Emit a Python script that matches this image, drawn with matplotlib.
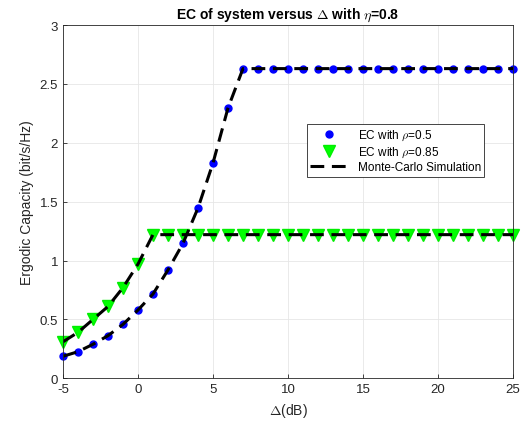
import numpy as np
from matplotlib import pyplot as plt

plt.rcParams['font.family'] = ['Liberation Sans', 'DejaVu Sans']
plt.rcParams['mathtext.fontset'] = 'cm'
plt.rcParams['axes.unicode_minus'] = False

# data
delta_db = np.arange(-5, 26)
ec_rho05 = [0.187, 0.226, 0.289, 0.362, 0.458, 0.58, 0.716, 0.92, 1.146, 1.446,
            1.828, 2.295, 2.63] + [2.63] * 18
ec_rho085 = [0.31, 0.39, 0.50, 0.61, 0.77, 0.97] + [1.22] * 25

fig = plt.figure(figsize=(5.24, 4.27), dpi=100)
ax = fig.add_axes([0.1202, 0.1117, 0.8588, 0.8273])

ax.plot(delta_db, ec_rho05, 'o', color='blue', markersize=5, clip_on=False,
        label=r'EC with $\rho$=0.5')
ax.plot(delta_db, ec_rho085, 'v', color='#00ff00', markersize=8, clip_on=False,
        markeredgecolor='#00ee00', label=r'EC with $\rho$=0.85')
ax.plot(delta_db, ec_rho05, '--', color='black', linewidth=2.2, dashes=(4.5, 2.5),
        label='Monte-Carlo Simulation')
ax.plot(delta_db, ec_rho085, '--', color='black', linewidth=2.2, dashes=(4.5, 2.5))

ax.set_xlim(-5, 25)
ax.set_ylim(0, 3)
ax.set_xticks([-5, 0, 5, 10, 15, 20, 25])
ax.set_yticks([0, 0.5, 1, 1.5, 2, 2.5, 3])
ax.set_yticklabels(['0', '0.5', '1', '1.5', '2', '2.5', '3'])
ax.tick_params(direction='in', labelsize=9.5, colors='#262626', length=3, width=0.6)
for s in ax.spines.values():
    s.set_color('#262626')
    s.set_linewidth(0.6)
ax.grid(True, color='#e6e6e6', linewidth=0.6)
ax.set_axisbelow(True)

ax.set_title(r'EC of system versus $\Delta$ with $\eta$=0.8', fontsize=10,
             fontweight='bold', pad=5)
ax.set_xlabel(r'$\Delta$(dB)', fontsize=10, color='#262626')
ax.set_ylabel('Ergodic Capacity (bit/s/Hz)', fontsize=10, color='#262626')

leg = ax.legend(loc='upper left', bbox_to_anchor=(0.542, 0.719), fontsize=8.5,
                fancybox=False, edgecolor='#262626', framealpha=1, borderaxespad=0,
                handlelength=3.2, borderpad=0.3, labelspacing=0.2)
leg.get_frame().set_linewidth(0.6)

fig.savefig('out.png', dpi=100)
